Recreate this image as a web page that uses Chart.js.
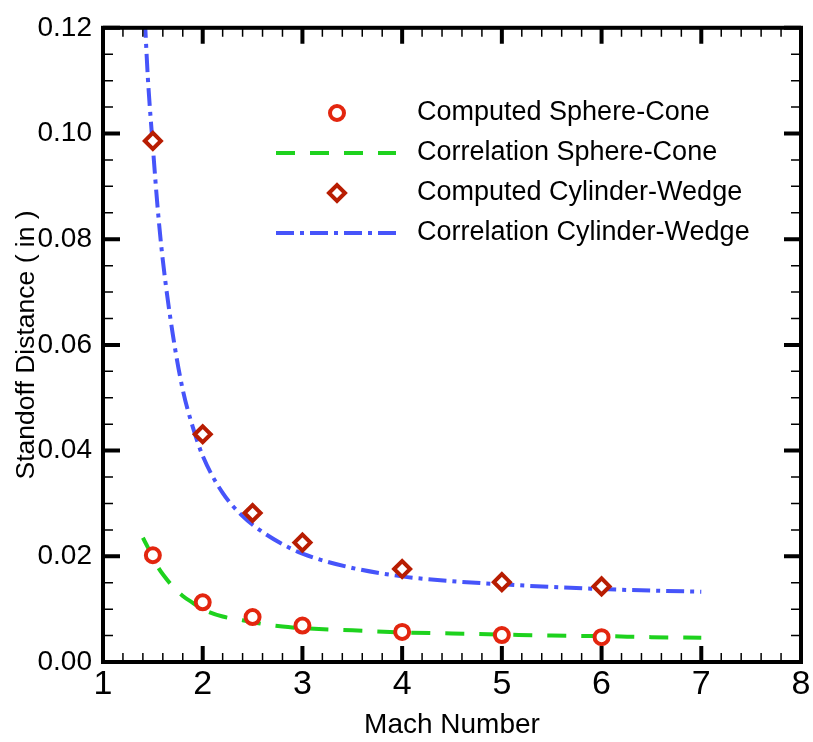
<!DOCTYPE html>
<html>
<head>
<meta charset="utf-8">
<script src="https://cdn.jsdelivr.net/npm/chart.js@4.4.1/dist/chart.umd.min.js"></script>
<style>
  html, body { margin: 0; padding: 0; background: #fff; }
  #wrap { width: 813px; height: 742px; }
</style>
</head>
<body>
<div id="wrap"><canvas id="standoffChart" width="813" height="742"></canvas></div>
<script>
// computed shock standoff distances
const machComputed = [1.5, 2, 2.5, 3, 4, 5, 6];
const sphereConeComputed = [0.0202, 0.0113, 0.0085, 0.0069, 0.0057, 0.0051, 0.0047];
const cylinderWedgeComputed = [0.0986, 0.0431, 0.0282, 0.0226, 0.0176, 0.0151, 0.0143];

// correlation curves
const machSphereCorr = [1.40, 1.45, 1.5, 1.55, 1.6, 1.7, 1.8, 1.9, 2.0, 2.2, 2.4, 2.6, 2.8, 3.0, 3.5, 4.0, 4.5, 5.0, 5.5, 6.0, 6.5, 7.0];
const sphereConeCorr = [0.0235, 0.0217, 0.0198, 0.0180, 0.0166, 0.0143, 0.0125, 0.0112, 0.0100, 0.0086, 0.0079, 0.0072, 0.0067, 0.0064, 0.0060, 0.0056, 0.0054, 0.0052, 0.0050, 0.0049, 0.0047, 0.0046];
const machWedgeCorr = [1.42, 1.45, 1.5, 1.55, 1.6, 1.7, 1.8, 1.9, 2.0, 2.2, 2.4, 2.6, 2.8, 3.0, 3.5, 4.0, 4.5, 5.0, 5.5, 6.0, 6.5, 7.0];
const cylinderWedgeCorr = [0.1215, 0.1105, 0.0975, 0.0855, 0.0760, 0.0620, 0.0515, 0.0445, 0.0390, 0.0320, 0.0276, 0.0246, 0.0223, 0.0205, 0.0178, 0.0162, 0.0153, 0.0147, 0.0142, 0.0138, 0.0135, 0.0133];

// axis ticks
const xTickValues = [1, 2, 3, 4, 5, 6, 7, 8];
const yTickValues = [0, 0.02, 0.04, 0.06, 0.08, 0.10, 0.12];
const xMinorStep = 0.2;
const yMinorStep = 0.005;

const FONT = "'Liberation Sans', Arial, Helvetica, sans-serif";
const RED = '#e3260f';
const DARK_RED = '#b81d02';
const GREEN = '#1ed21e';
const BLUE = '#4654fa';

const zip = (xs, ys) => xs.map((x, i) => ({ x: x, y: ys[i] }));

// inward ticks on all four sides plus the heavy frame
const frameTicks = {
  id: 'frameTicks',
  afterDatasetsDraw(chart) {
    const { ctx, chartArea: a, scales: { x, y } } = chart;
    ctx.save();
    ctx.strokeStyle = '#000';
    ctx.lineCap = 'butt';

    ctx.lineWidth = 1.5;
    ctx.beginPath();
    const nx = Math.round((x.max - x.min) / xMinorStep);
    for (let i = 0; i <= nx; i++) {
      const px = x.getPixelForValue(x.min + i * xMinorStep);
      ctx.moveTo(px, a.bottom); ctx.lineTo(px, a.bottom - 9);
      ctx.moveTo(px, a.top); ctx.lineTo(px, a.top + 9);
    }
    const ny = Math.round((y.max - y.min) / yMinorStep);
    for (let i = 0; i <= ny; i++) {
      const py = y.getPixelForValue(y.min + i * yMinorStep);
      ctx.moveTo(a.left, py); ctx.lineTo(a.left + 10, py);
      ctx.moveTo(a.right, py); ctx.lineTo(a.right - 10, py);
    }
    ctx.stroke();

    ctx.lineWidth = 4;
    ctx.beginPath();
    xTickValues.forEach(v => {
      const px = x.getPixelForValue(v);
      ctx.moveTo(px, a.bottom); ctx.lineTo(px, a.bottom - 16);
      ctx.moveTo(px, a.top); ctx.lineTo(px, a.top + 16);
    });
    yTickValues.forEach(v => {
      const py = y.getPixelForValue(v);
      ctx.moveTo(a.left, py); ctx.lineTo(a.left + 17, py);
      ctx.moveTo(a.right, py); ctx.lineTo(a.right - 17, py);
    });
    ctx.stroke();

    ctx.lineWidth = 4;
    ctx.strokeRect(a.left, a.top, a.right - a.left, a.bottom - a.top);
    ctx.restore();
  }
};

// legend inside the plot: sample line / marker followed by the label
const insetLegend = {
  id: 'insetLegend',
  afterDraw(chart) {
    const ctx = chart.ctx;
    const rows = [0, 1, 2, 3];
    ctx.save();
    rows.forEach(i => {
      const ds = chart.data.datasets[i];
      const cy = 113 + i * 40;
      if (ds.showLine) {
        ctx.strokeStyle = ds.borderColor;
        ctx.lineWidth = ds.borderWidth;
        ctx.setLineDash(ds.borderDash);
        ctx.beginPath();
        ctx.moveTo(276, cy);
        ctx.lineTo(396, cy);
        ctx.stroke();
        ctx.setLineDash([]);
      } else {
        ctx.strokeStyle = ds.pointBorderColor;
        ctx.lineWidth = ds.pointBorderWidth;
        ctx.fillStyle = '#fff';
        const r = ds.pointRadius;
        const cx = 337;
        ctx.beginPath();
        if (ds.pointStyle === 'rectRot') {
          ctx.moveTo(cx - r, cy); ctx.lineTo(cx, cy - r);
          ctx.lineTo(cx + r, cy); ctx.lineTo(cx, cy + r);
          ctx.closePath();
        } else {
          ctx.arc(cx, cy, r, 0, Math.PI * 2);
        }
        ctx.fill();
        ctx.stroke();
      }
      ctx.fillStyle = '#000';
      ctx.font = '27px ' + FONT;
      ctx.textAlign = 'left';
      ctx.textBaseline = 'middle';
      ctx.fillText(ds.label, 417, cy);
    });
    ctx.restore();
  }
};

new Chart(document.getElementById('standoffChart'), {
  type: 'scatter',
  data: {
    datasets: [
      {
        label: 'Computed Sphere-Cone',
        data: zip(machComputed, sphereConeComputed),
        showLine: false,
        pointStyle: 'circle',
        pointRadius: 7,
        pointBorderWidth: 4,
        pointBorderColor: RED,
        pointBackgroundColor: '#fff',
        order: 0
      },
      {
        label: 'Correlation Sphere-Cone',
        data: zip(machSphereCorr, sphereConeCorr),
        showLine: true,
        borderColor: GREEN,
        borderWidth: 4,
        borderDash: [19, 15],
        cubicInterpolationMode: 'monotone',
        pointRadius: 0,
        clip: 0,
        order: 1
      },
      {
        label: 'Computed Cylinder-Wedge',
        data: zip(machComputed, cylinderWedgeComputed),
        showLine: false,
        pointStyle: 'rectRot',
        pointRadius: 8,
        pointBorderWidth: 4,
        pointBorderColor: DARK_RED,
        pointBackgroundColor: '#fff',
        order: 0
      },
      {
        label: 'Correlation Cylinder-Wedge',
        data: zip(machWedgeCorr, cylinderWedgeCorr),
        showLine: true,
        borderColor: BLUE,
        borderWidth: 4,
        borderDash: [18, 6, 4, 6],
        cubicInterpolationMode: 'monotone',
        pointRadius: 0,
        clip: 0,
        order: 1
      }
    ]
  },
  options: {
    responsive: false,
    animation: false,
    layout: { padding: { top: 21, right: 11, left: 0, bottom: 0 } },
    plugins: {
      legend: { display: false },
      tooltip: { enabled: false }
    },
    scales: {
      x: {
        type: 'linear',
        min: 1,
        max: 8,
        afterBuildTicks: s => { s.ticks = xTickValues.map(v => ({ value: v })); },
        afterFit: s => { s.height = 80; },
        grid: { display: false, drawTicks: false },
        border: { display: false },
        ticks: {
          color: '#000',
          font: { family: FONT, size: 34 },
          padding: 2,
          maxRotation: 0,
          autoSkip: false
        },
        title: {
          display: true,
          text: 'Mach Number',
          color: '#000',
          font: { family: FONT, size: 28 },
          padding: { top: 0, bottom: 0 }
        }
      },
      y: {
        type: 'linear',
        min: 0,
        max: 0.12,
        afterBuildTicks: s => { s.ticks = yTickValues.map(v => ({ value: v })); },
        afterFit: s => { s.width = 103; },
        grid: { display: false, drawTicks: false },
        border: { display: false },
        ticks: {
          color: '#000',
          font: { family: FONT, size: 28 },
          padding: 11,
          callback: v => v.toFixed(2)
        },
        title: {
          display: true,
          text: 'Standoff Distance ( in )',
          color: '#000',
          font: { family: FONT, size: 26.5 },
          padding: { top: 11, bottom: 0 }
        }
      }
    }
  },
  plugins: [frameTicks, insetLegend]
});
</script>
</body>
</html>
